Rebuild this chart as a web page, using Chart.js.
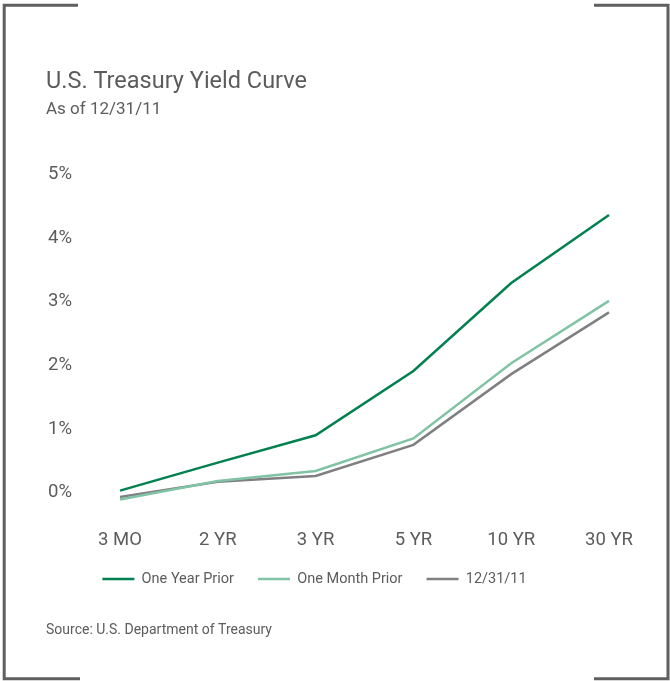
<!DOCTYPE html>
<html>
<head>
<meta charset="utf-8">
<title>U.S. Treasury Yield Curve</title>
<script src="https://cdn.jsdelivr.net/npm/chart.js@4.4.1/dist/chart.umd.min.js"></script>
<style>
  html, body { margin: 0; padding: 0; background: #fff; }
  #wrap { position: relative; width: 670px; height: 681px; }
</style>
</head>
<body>
<div id="wrap"><canvas id="yieldChart"></canvas></div>
<script>
// tenors on the x axis
const tenors = ['3 MO', '2 YR', '3 YR', '5 YR', '10 YR', '30 YR'];

// yields in percent
const oneYearPrior  = [0.00, 0.44, 0.87, 1.88, 3.26, 4.33];
const oneMonthPrior = [-0.14, 0.15, 0.31, 0.82, 2.00, 2.98];
const asOfDate      = [-0.10, 0.14, 0.23, 0.72, 1.83, 2.80];

const seriesNames  = ['One Year Prior', 'One Month Prior', '12/31/11'];
const seriesColors = ['#00814f', '#80c4a5', '#808083'];

const textGrey = '#5c5c5c';
const fontFam = 'Roboto, "Open Sans", sans-serif';

// corner brackets + source line
const framePlugin = {
    id: 'frame',
    afterDraw(chart) {
        const ctx = chart.ctx;
        ctx.save();
        ctx.strokeStyle = '#5f5f5f';
        ctx.lineWidth = 3;
        ctx.beginPath();
        ctx.moveTo(78, 5.2); ctx.lineTo(4.2, 5.2); ctx.lineTo(4.2, 678.8); ctx.lineTo(80, 678.8);
        ctx.moveTo(594, 5.2); ctx.lineTo(668, 5.2); ctx.lineTo(668, 678.8); ctx.lineTo(594, 678.8);
        ctx.stroke();

        ctx.fillStyle = textGrey;
        ctx.font = '14px ' + fontFam;
        ctx.textBaseline = 'middle';
        ctx.textAlign = 'left';
        ctx.fillText('Source: U.S. Department of Treasury', 46, 630);
        ctx.restore();
    }
};

// the legend sits a little left of centre in the original
const legendShift = {
    id: 'legendShift',
    afterLayout(chart) {
        chart.legend.left -= 13;
        chart.legend.right -= 13;
    }
};

const series = [oneYearPrior, oneMonthPrior, asOfDate];

const ctx = document.getElementById('yieldChart').getContext('2d');
new Chart(ctx, {
    type: 'line',
    data: {
        labels: tenors,
        datasets: series.map((vals, i) => ({
            label: seriesNames[i],
            data: vals,
            borderColor: seriesColors[i],
            backgroundColor: seriesColors[i],
            borderWidth: 2.5,
            pointRadius: 0,
            tension: 0
        }))
    },
    options: {
        responsive: true,
        maintainAspectRatio: false,
        animation: false,
        layout: {
            padding: { left: 46, right: 61, top: 0, bottom: 84.75 }
        },
        plugins: {
            title: {
                display: true,
                text: 'U.S. Treasury Yield Curve',
                align: 'start',
                color: textGrey,
                font: { family: fontFam, size: 23.5, weight: 'normal' },
                padding: { top: 68.4, bottom: 0 }
            },
            subtitle: {
                display: true,
                text: 'As of 12/31/11',
                align: 'start',
                color: textGrey,
                font: { family: fontFam, size: 17, weight: 'normal' },
                padding: { top: 2.7, bottom: 52.6 }
            },
            legend: {
                position: 'bottom',
                labels: {
                    usePointStyle: true,
                    pointStyle: 'line',
                    pointStyleWidth: 32,
                    padding: 24,
                    color: textGrey,
                    font: { family: fontFam, size: 14.5 }
                }
            },
            tooltip: { enabled: false }
        },
        scales: {
            x: {
                grid: { display: false, drawTicks: false },
                border: { display: false },
                afterFit: scale => { scale.height = 25.25; },
                ticks: {
                    color: textGrey,
                    padding: 7,
                    maxRotation: 0,
                    font: { family: fontFam, size: 18.5 }
                }
            },
            y: {
                min: -0.5,
                max: 5,
                grid: { display: false, drawTicks: false },
                border: { display: false },
                afterFit: scale => { scale.width = 74; },
                ticks: {
                    stepSize: 1,
                    padding: 48,
                    labelOffset: 2,
                    color: textGrey,
                    font: { family: fontFam, size: 18.5 },
                    callback: v => (v < 0 ? '' : v + '%')
                }
            }
        }
    },
    plugins: [framePlugin, legendShift]
});
</script>
</body>
</html>
